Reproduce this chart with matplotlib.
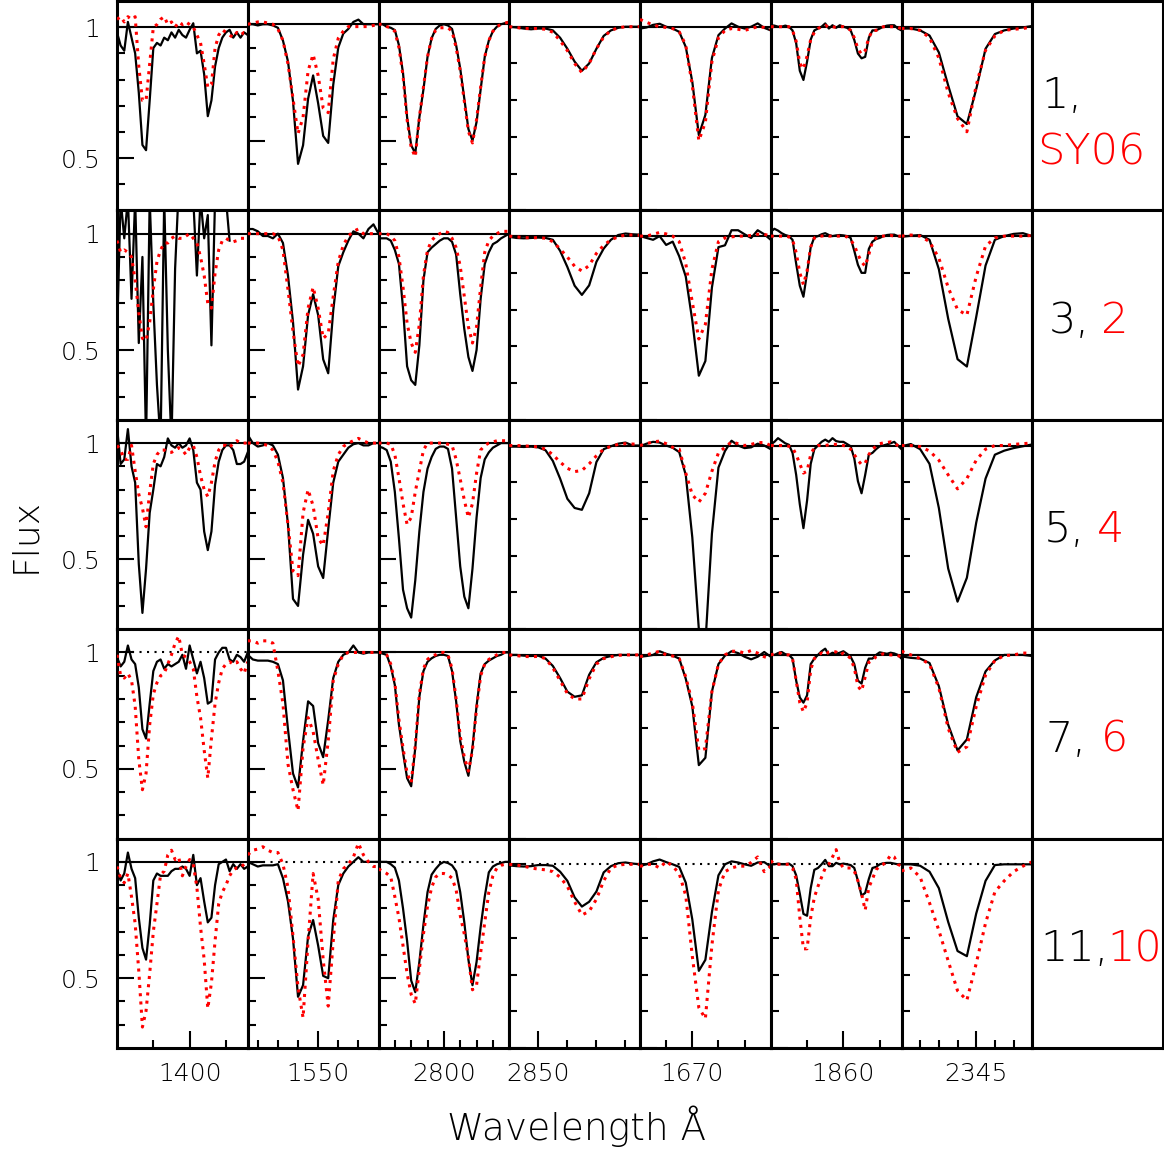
import matplotlib
matplotlib.use("Agg")
import matplotlib.pyplot as plt
import numpy as np

# wavelength window of each column (Angstrom), spectra sampled every 0.5 A
windows = [(1390, 1408), (1543, 1556), (2792, 2808), (2848, 2857),
           (1666, 1676), (1850, 1868), (2341, 2348)]
major_ticks = [1400, 1550, 2800, 2850, 1670, 1860, 2345]
minor_ticks = [[1395, 1405],
               [1544, 1546, 1548, 1552, 1554],
               [2794, 2796, 2798, 2802, 2804, 2806],
               [2852, 2854, 2856],
               [1668, 1672, 1674],
               [1855, 1865],
               [2342, 2343, 2344, 2346, 2347]]
step = 0.5

# row labels: (black spectrum, red spectrum)
row_labels = [("1,", "SY06"), ("3,", "2"), ("5,", "4"), ("7,", "6"), ("11,", "10")]

# ---- SiIV 1393/1402 ----
siiv_black = [
    [0.98, 0.93, 0.91, 1.02, 0.96, 0.90, 0.75, 0.55, 0.53, 0.72, 0.92, 0.94, 0.93, 0.96, 0.95, 0.98, 0.96, 0.99, 0.97,
     0.96, 0.99, 1.015, 0.90, 0.91, 0.82, 0.66, 0.72, 0.85, 0.92, 0.96, 0.98, 0.99, 0.96, 0.98, 0.96, 0.98, 0.97],
    [0.55, 1.15, 0.98, 1.15, 0.72, 1.15, 0.53, 0.90, 0.10, 1.15, 0.70, 0.35, 0.10, 1.15, 0.50, 0.10, 0.85, 1.2, 1.2,
     1.2, 1.2, 1.15, 0.82, 1.15, 0.98, 1.08, 0.52, 1.15, 1.2, 1.2, 1.15, 0.97],
    [1.07, 0.91, 0.93, 1.06, 0.90, 0.83, 0.48, 0.27, 0.46, 0.70, 0.80, 0.91, 0.90, 0.94, 1.02, 0.99, 0.98, 1.0, 0.98,
     0.99, 1.02, 0.97, 0.83, 0.80, 0.62, 0.54, 0.62, 0.82, 0.92, 0.97, 0.99, 0.99, 0.97, 0.91, 0.91, 0.92, 0.96],
    [0.98, 0.94, 0.96, 1.03, 0.97, 0.95, 0.85, 0.67, 0.63, 0.78, 0.92, 0.96, 0.97, 0.93, 0.95, 0.94, 0.95, 0.96, 0.99,
     0.93, 1.03, 0.97, 0.91, 0.96, 0.89, 0.78, 0.79, 0.97, 1.0, 1.02, 1.02, 0.97, 0.96, 0.99, 0.98, 0.96, 1.0],
    [0.97, 0.92, 0.95, 1.04, 0.97, 0.93, 0.76, 0.63, 0.58, 0.73, 0.92, 0.95, 0.94, 0.94, 0.94, 0.96, 0.97, 0.97, 0.98,
     0.97, 0.94, 1.03, 0.90, 0.93, 0.83, 0.74, 0.76, 0.90, 0.99, 1.0, 1.01, 0.96, 0.99, 0.97, 0.99, 0.97, 0.98],
]
siiv_red = [
    [1.03, 1.04, 1.02, 1.04, 1.03, 1.04, 0.85, 0.72, 0.72, 0.86, 1.0, 1.01, 1.03, 1.04, 1.01, 1.02, 1.0, 1.02, 1.01,
     1.02, 1.01, 1.0, 0.97, 0.94, 0.86, 0.77, 0.78, 0.92, 0.97, 0.99, 0.98, 0.97, 0.96, 0.98, 0.97, 0.98, 0.98],
    [0.97, 0.92, 0.93, 0.92, 0.90, 0.80, 0.66, 0.55, 0.54, 0.62, 0.76, 0.88, 0.93, 0.96, 0.96, 0.98, 0.99, 0.98, 0.98,
     0.99, 1.0, 0.98, 0.96, 0.90, 0.82, 0.70, 0.68, 0.83, 0.93, 0.97, 0.98, 0.97, 0.965, 0.97, 0.98, 0.98, 0.98],
    [0.99, 0.97, 0.93, 0.93, 0.99, 0.88, 0.78, 0.72, 0.64, 0.79, 0.91, 0.95, 0.97, 0.97, 0.96, 0.96, 0.97, 0.98, 0.97,
     0.95, 0.98, 0.99, 0.94, 0.86, 0.80, 0.77, 0.83, 0.92, 0.97, 0.99, 0.99, 0.98, 1.0, 1.01, 1.0, 1.0, 1.0],
    [0.99, 0.90, 0.89, 0.91, 0.88, 0.77, 0.54, 0.41, 0.48, 0.69, 0.82, 0.87, 0.90, 0.91, 0.95, 0.99, 1.04, 1.07, 0.99,
     0.98, 0.96, 0.93, 0.81, 0.72, 0.58, 0.46, 0.63, 0.78, 0.87, 0.93, 0.95, 0.96, 0.95, 0.96, 0.93, 0.91, 0.96],
    [0.98, 0.93, 0.91, 0.95, 0.85, 0.735, 0.53, 0.29, 0.36, 0.52, 0.70, 0.82, 0.945, 0.96, 1.03, 1.05, 1.01, 1.02,
     0.94, 0.98, 1.01, 0.99, 0.89, 0.72, 0.58, 0.37, 0.48, 0.66, 0.82, 0.87, 0.90, 0.94, 0.965, 0.975, 0.975, 0.99, 1.0],
]

# ---- CIV 1548/1550 ----
civ_black = [
    [1.0, 1.0, 0.995, 1.0, 1.0, 0.995, 0.985, 0.93, 0.84, 0.67, 0.40, 0.48, 0.68, 0.78, 0.66, 0.52, 0.49, 0.74, 0.90,
     0.96, 0.98, 1.01, 1.02, 1.0, 1.0, 1.0, 1.0],
    [1.02, 1.02, 1.01, 0.99, 0.99, 0.98, 1.0, 0.96, 0.82, 0.62, 0.33, 0.43, 0.65, 0.74, 0.65, 0.46, 0.40, 0.67, 0.86,
     0.92, 0.97, 1.01, 1.0, 0.98, 1.02, 1.04, 1.0],
    [1.035, 1.0, 0.985, 0.99, 1.0, 0.99, 0.95, 0.85, 0.65, 0.33, 0.30, 0.52, 0.67, 0.61, 0.47, 0.42, 0.63, 0.83, 0.92,
     0.95, 0.98, 0.995, 1.0, 0.99, 0.99, 1.0, 1.0],
    [0.99, 0.97, 0.965, 0.965, 0.965, 0.96, 0.95, 0.88, 0.67, 0.48, 0.42, 0.62, 0.79, 0.77, 0.61, 0.55, 0.71, 0.89,
     0.96, 0.99, 1.0, 1.03, 1.0, 0.995, 1.0, 1.0, 1.0],
    [1.0, 0.99, 0.98, 0.985, 0.985, 0.985, 0.99, 0.93, 0.83, 0.67, 0.42, 0.47, 0.68, 0.75, 0.64, 0.51, 0.50, 0.75,
     0.90, 0.95, 0.98, 1.0, 1.02, 1.0, 1.0, 1.0, 1.0],
]
civ_red = [
    [1.0, 1.005, 1.01, 1.01, 1.005, 1.0, 0.98, 0.93, 0.83, 0.68, 0.53, 0.60, 0.80, 0.87, 0.78, 0.64, 0.62, 0.85, 0.94,
     0.97, 0.99, 0.99, 0.99, 0.99, 0.99, 0.995, 0.995],
    [1.0, 1.0, 1.0, 1.0, 1.0, 1.0, 0.99, 0.93, 0.76, 0.58, 0.43, 0.48, 0.68, 0.77, 0.68, 0.55, 0.57, 0.73, 0.88, 0.95,
     0.99, 1.01, 1.02, 1.0, 1.0, 1.0, 1.0],
    [1.0, 1.0, 1.0, 0.995, 0.99, 0.97, 0.92, 0.83, 0.65, 0.45, 0.43, 0.70, 0.80, 0.73, 0.59, 0.56, 0.70, 0.88, 0.95,
     0.985, 1.0, 1.01, 1.02, 1.01, 1.0, 1.0, 1.0],
    [1.05, 1.05, 1.04, 1.05, 1.05, 1.04, 0.92, 0.78, 0.52, 0.41, 0.32, 0.59, 0.72, 0.66, 0.54, 0.43, 0.62, 0.88, 0.95,
     0.99, 1.0, 1.0, 1.0, 1.0, 1.0, 1.0, 1.0],
    [1.03, 1.05, 1.055, 1.065, 1.05, 1.04, 1.04, 0.99, 0.89, 0.68, 0.46, 0.33, 0.66, 0.95, 0.84, 0.58, 0.38, 0.66,
     0.92, 0.97, 0.99, 1.02, 1.08, 1.03, 1.0, 0.98, 0.98],
]

# ---- MgII 2796/2803 ----
mgii_black = [
    [1.0, 1.0, 0.99, 0.985, 0.975, 0.91, 0.79, 0.60, 0.48, 0.445, 0.60, 0.72, 0.86, 0.94, 0.98, 0.995, 1.0, 0.995,
     0.98, 0.91, 0.81, 0.68, 0.55, 0.50, 0.58, 0.72, 0.86, 0.93, 0.97, 0.99, 1.0, 1.005, 1.01],
    [0.98, 0.98, 0.98, 0.97, 0.93, 0.87, 0.68, 0.43, 0.37, 0.35, 0.52, 0.80, 0.92, 0.94, 0.955, 0.97, 0.98, 0.98, 0.965,
     0.91, 0.74, 0.59, 0.47, 0.41, 0.50, 0.72, 0.87, 0.92, 0.955, 0.965, 0.98, 0.99, 1.0],
    [0.985, 0.98, 0.97, 0.92, 0.79, 0.59, 0.37, 0.29, 0.25, 0.41, 0.62, 0.79, 0.89, 0.94, 0.975, 0.985, 0.985, 0.975,
     0.89, 0.68, 0.47, 0.34, 0.29, 0.46, 0.68, 0.85, 0.93, 0.96, 0.98, 0.99, 1.0, 1.0, 1.0],
    [1.0, 0.995, 0.99, 0.94, 0.86, 0.69, 0.57, 0.46, 0.425, 0.59, 0.81, 0.92, 0.96, 0.975, 0.985, 0.99, 0.99, 0.985,
     0.92, 0.79, 0.62, 0.53, 0.47, 0.59, 0.77, 0.91, 0.95, 0.965, 0.975, 0.985, 0.99, 1.0, 1.0],
    [1.0, 1.0, 1.0, 0.99, 0.975, 0.92, 0.80, 0.66, 0.49, 0.44, 0.57, 0.73, 0.87, 0.945, 0.97, 0.99, 1.0, 0.995, 0.985,
     0.96, 0.87, 0.74, 0.58, 0.47, 0.57, 0.72, 0.85, 0.955, 0.98, 0.99, 0.995, 1.0, 1.0],
]
mgii_red = [
    [1.0, 1.0, 0.99, 0.985, 0.97, 0.90, 0.78, 0.59, 0.47, 0.43, 0.60, 0.73, 0.86, 0.94, 0.975, 0.985, 0.985, 0.985,
     0.97, 0.90, 0.80, 0.67, 0.54, 0.49, 0.59, 0.73, 0.86, 0.93, 0.97, 0.99, 1.0, 1.005, 1.01],
    [1.0, 1.0, 1.0, 0.99, 0.97, 0.90, 0.77, 0.615, 0.53, 0.49, 0.61, 0.82, 0.93, 0.97, 0.99, 1.0, 1.01, 1.005, 0.98,
     0.94, 0.86, 0.73, 0.60, 0.53, 0.60, 0.77, 0.92, 0.97, 0.99, 1.0, 1.01, 1.01, 1.01],
    [1.0, 1.0, 1.0, 0.995, 0.95, 0.85, 0.74, 0.65, 0.68, 0.79, 0.88, 0.97, 1.0, 1.0, 1.0, 1.0, 1.0, 0.995, 0.99, 0.93,
     0.845, 0.755, 0.68, 0.74, 0.87, 0.97, 0.99, 1.0, 1.005, 1.01, 1.01, 1.01, 1.01],
    [1.0, 1.0, 0.99, 0.95, 0.87, 0.71, 0.59, 0.48, 0.44, 0.60, 0.82, 0.93, 0.97, 0.985, 0.99, 1.0, 1.0, 0.99, 0.93,
     0.80, 0.64, 0.55, 0.49, 0.58, 0.76, 0.90, 0.95, 0.97, 0.98, 0.99, 1.0, 1.0, 1.0],
    [0.97, 0.96, 0.95, 0.935, 0.85, 0.76, 0.64, 0.52, 0.43, 0.39, 0.54, 0.69, 0.81, 0.89, 0.935, 0.95, 0.95, 0.945,
     0.93, 0.88, 0.77, 0.69, 0.59, 0.45, 0.47, 0.61, 0.74, 0.87, 0.94, 0.975, 0.985, 0.99, 0.99],
]

# ---- MgI 2852 ----
mgi_black = [
    [1.0, 0.998, 0.995, 0.993, 0.995, 0.995, 0.99, 0.97, 0.94, 0.905, 0.88, 0.90, 0.94, 0.975, 0.99, 0.997, 1.0, 1.0,
     1.0],
    [0.998, 0.995, 0.994, 0.995, 0.996, 0.995, 0.99, 0.96, 0.916, 0.865, 0.84, 0.866, 0.93, 0.966, 0.99, 1.003, 1.007,
     1.005, 1.004],
    [0.997, 0.997, 0.996, 0.997, 0.995, 0.987, 0.958, 0.91, 0.855, 0.83, 0.825, 0.87, 0.955, 0.99, 0.998, 1.005,
     1.008, 1.0, 1.0],
    [1.0, 1.0, 0.998, 0.997, 0.998, 0.99, 0.97, 0.937, 0.90, 0.886, 0.89, 0.946, 0.98, 0.992, 0.997, 1.0, 1.0, 1.0,
     1.0],
    [0.997, 0.995, 0.994, 0.995, 0.998, 0.998, 0.996, 0.98, 0.955, 0.91, 0.885, 0.898, 0.926, 0.978, 0.995, 1.003,
     1.005, 1.002, 1.0],
]
mgi_red = [
    [1.0, 0.998, 0.995, 0.995, 0.995, 0.993, 0.985, 0.962, 0.935, 0.90, 0.875, 0.90, 0.94, 0.972, 0.99, 0.997, 1.0,
     1.0, 1.0],
    [1.0, 0.998, 0.996, 0.995, 0.996, 0.994, 0.985, 0.965, 0.943, 0.918, 0.905, 0.92, 0.953, 0.975, 0.99, 0.998,
     1.003, 1.003, 1.002],
    [1.0, 1.0, 0.999, 0.998, 0.996, 0.99, 0.975, 0.955, 0.938, 0.929, 0.932, 0.95, 0.972, 0.99, 0.998, 1.003, 1.005,
     1.004, 1.003],
    [1.0, 0.998, 0.996, 0.995, 0.996, 0.99, 0.965, 0.93, 0.895, 0.88, 0.88, 0.935, 0.975, 0.99, 0.995, 0.999, 1.0,
     1.0, 1.0],
    [1.0, 0.998, 0.995, 0.99, 0.987, 0.985, 0.98, 0.965, 0.94, 0.898, 0.862, 0.872, 0.905, 0.955, 0.99, 0.998, 1.0,
     1.0, 1.0],
]

# ---- AlII 1670 ----
alii_black = [
    [0.995, 0.998, 1.005, 1.008, 1.0, 0.995, 0.986, 0.945, 0.85, 0.705, 0.76, 0.915, 0.977, 0.995, 1.009, 1.0, 0.995,
     1.0, 1.009, 0.997, 0.99],
    [1.0, 0.995, 0.99, 1.0, 0.976, 0.985, 0.945, 0.89, 0.77, 0.62, 0.66, 0.86, 0.97, 0.975, 1.016, 1.016, 1.005, 0.995,
     1.016, 1.005, 0.99],
    [0.998, 1.005, 1.01, 1.008, 1.0, 0.994, 0.982, 0.92, 0.75, 0.50, 0.46, 0.76, 0.94, 0.985, 1.013, 1.0, 0.993,
     0.995, 1.005, 1.0, 0.99],
    [0.995, 0.997, 1.0, 1.01, 1.003, 0.998, 0.99, 0.935, 0.86, 0.70, 0.72, 0.90, 0.975, 0.998, 1.01, 1.005, 0.995,
     0.988, 0.995, 1.008, 0.995],
    [0.996, 1.0, 1.008, 1.013, 1.006, 1.0, 0.993, 0.95, 0.85, 0.71, 0.74, 0.87, 0.97, 1.0, 1.008, 1.005, 1.0, 0.996,
     1.005, 1.006, 0.994],
]
alii_red = [
    [1.02, 1.012, 1.005, 1.0, 0.998, 0.995, 0.986, 0.95, 0.84, 0.69, 0.74, 0.905, 0.97, 0.99, 0.995, 0.993, 0.99,
     0.995, 1.0, 0.998, 0.993],
    [1.0, 1.0, 1.005, 1.01, 1.006, 1.0, 0.985, 0.925, 0.82, 0.72, 0.76, 0.91, 0.985, 0.995, 0.998, 1.0, 1.0, 1.002,
     1.005, 1.005, 1.0],
    [1.0, 1.005, 1.01, 1.012, 1.005, 0.995, 0.99, 0.925, 0.866, 0.846, 0.87, 0.93, 0.98, 0.995, 1.01, 1.005, 1.0,
     1.003, 1.008, 1.008, 1.0],
    [0.995, 1.0, 1.005, 1.01, 1.0, 0.997, 0.99, 0.94, 0.87, 0.74, 0.745, 0.90, 0.975, 1.0, 1.01, 1.01, 1.005, 1.012,
     1.005, 0.995, 0.99],
    [0.994, 1.0, 1.0, 0.99, 1.008, 0.995, 0.975, 0.915, 0.75, 0.61, 0.58, 0.78, 0.93, 0.98, 0.99, 0.995, 0.995, 1.005,
     1.02, 0.98, 0.995],
]

# ---- AlIII 1854/1862 ----
aliii_black = [
    [1.004, 1.003, 1.0, 1.0, 1.003, 1.0, 0.99, 0.955, 0.88, 0.855, 0.905, 0.965, 0.99, 0.995, 1.0, 1.009, 0.995, 1.004,
     0.997, 1.004, 1.0, 0.997, 0.99, 0.964, 0.927, 0.914, 0.918, 0.97, 0.99, 0.99, 0.995, 1.0, 1.003, 1.004, 1.004,
     0.995, 0.99],
    [1.012, 1.02, 1.015, 1.008, 1.003, 1.0, 0.99, 0.925, 0.865, 0.835, 0.90, 0.97, 0.997, 1.0, 1.005, 1.008, 1.003,
     1.0, 1.002, 1.003, 1.002, 1.0, 0.995, 0.96, 0.922, 0.90, 0.90, 0.965, 0.985, 0.992, 0.995, 1.0, 1.003, 1.004,
     1.004, 1.0, 0.998],
    [1.003, 1.01, 1.02, 1.013, 1.006, 1.002, 0.98, 0.92, 0.84, 0.775, 0.85, 0.95, 0.99, 1.0, 1.01, 1.016, 1.01, 1.02,
     1.012, 1.01, 1.01, 1.004, 0.998, 0.965, 0.903, 0.87, 0.92, 0.975, 0.98, 0.99, 0.998, 1.0, 1.003, 1.006, 1.01,
     1.0, 0.99],
    [1.0, 1.0, 1.005, 1.008, 1.002, 1.0, 0.99, 0.93, 0.884, 0.87, 0.89, 0.975, 0.99, 1.0, 1.01, 1.017, 1.0, 1.006,
     1.003, 1.006, 1.01, 1.003, 0.995, 0.975, 0.93, 0.922, 0.965, 0.99, 0.99, 1.0, 1.007, 1.005, 1.003, 1.006, 1.004,
     1.0, 0.99],
    [1.0, 1.0, 1.002, 1.0, 1.0, 1.002, 0.995, 0.97, 0.92, 0.865, 0.86, 0.935, 0.985, 0.99, 1.0, 1.012, 0.995, 0.995,
     1.004, 1.0, 1.002, 1.0, 0.998, 0.99, 0.955, 0.915, 0.922, 0.96, 0.99, 0.993, 1.0, 1.003, 1.004, 1.004, 1.002,
     1.0, 1.0],
]
aliii_red = [
    [1.0, 1.0, 1.0, 1.0, 1.0, 1.0, 0.99, 0.96, 0.90, 0.885, 0.92, 0.965, 0.985, 0.995, 1.0, 1.004, 0.998, 1.0, 0.998,
     1.0, 1.0, 0.998, 0.99, 0.97, 0.94, 0.925, 0.935, 0.97, 0.99, 0.99, 0.995, 1.0, 1.0, 1.0, 1.0, 0.998, 0.995],
    [1.0, 1.0, 1.0, 1.0, 1.0, 0.998, 0.99, 0.955, 0.90, 0.868, 0.905, 0.97, 0.995, 1.0, 1.0, 1.002, 1.0, 1.0, 1.0, 1.0,
     1.0, 0.998, 0.99, 0.975, 0.95, 0.93, 0.918, 0.95, 0.985, 0.995, 1.0, 1.0, 1.002, 1.002, 1.0, 1.0, 1.0],
    [1.0, 1.0, 1.0, 1.0, 1.0, 0.998, 0.994, 0.975, 0.95, 0.925, 0.93, 0.975, 0.995, 1.0, 1.0, 1.0, 1.002, 1.003, 1.003,
     1.003, 1.0, 0.998, 0.99, 0.975, 0.96, 0.948, 0.952, 0.975, 0.99, 0.998, 1.005, 1.007, 1.008, 1.01, 1.005, 1.0,
     0.995],
    [1.0, 1.003, 1.006, 1.004, 1.0, 1.0, 0.99, 0.93, 0.87, 0.845, 0.87, 0.96, 0.99, 1.0, 1.005, 1.0, 1.008, 1.01,
     1.008, 1.0, 1.005, 1.0, 0.99, 0.965, 0.915, 0.902, 0.94, 0.98, 0.985, 0.995, 1.0, 1.003, 1.002, 1.0, 1.0, 0.998,
     0.995],
    [1.01, 1.0, 1.0, 1.0, 1.0, 1.0, 0.99, 0.96, 0.855, 0.77, 0.77, 0.855, 0.91, 0.94, 0.965, 0.99, 1.0, 1.02, 1.04,
     1.005, 0.99, 0.99, 0.99, 0.982, 0.955, 0.92, 0.875, 0.937, 0.96, 0.985, 0.995, 1.0, 1.01, 1.025, 1.02, 1.0, 0.995],
]

# ---- FeII 2344 ----
feii_black = [
    [0.995, 0.995, 0.99, 0.976, 0.93, 0.84, 0.756, 0.735, 0.83, 0.94, 0.98, 0.99, 0.995, 0.998, 1.002],
    [0.998, 1.001, 1.003, 0.99, 0.91, 0.775, 0.665, 0.645, 0.78, 0.92, 0.99, 1.0, 1.006, 1.008, 1.0],
    [0.998, 1.004, 0.99, 0.95, 0.83, 0.665, 0.575, 0.64, 0.79, 0.91, 0.975, 0.986, 0.993, 0.998, 1.003],
    [0.996, 0.992, 0.99, 0.978, 0.915, 0.81, 0.74, 0.77, 0.885, 0.955, 0.985, 1.0, 1.0, 1.0, 0.997],
    [1.0, 1.0, 0.996, 0.98, 0.935, 0.843, 0.764, 0.75, 0.866, 0.955, 0.998, 1.0, 1.0, 1.0, 1.0],
]
feii_red = [
    [0.995, 0.995, 0.99, 0.97, 0.915, 0.82, 0.75, 0.714, 0.84, 0.936, 0.975, 0.99, 0.993, 0.995, 1.0],
    [1.0, 1.003, 1.0, 0.985, 0.94, 0.86, 0.80, 0.785, 0.89, 0.973, 0.995, 1.0, 1.0, 1.0, 1.002],
    [1.0, 1.0, 0.997, 0.985, 0.96, 0.92, 0.882, 0.91, 0.96, 0.99, 1.0, 1.0, 1.003, 1.005, 1.007],
    [1.01, 1.0, 0.99, 0.975, 0.91, 0.80, 0.735, 0.75, 0.86, 0.945, 0.985, 0.998, 1.0, 1.005, 1.005],
    [0.982, 0.99, 0.965, 0.895, 0.82, 0.737, 0.656, 0.63, 0.73, 0.84, 0.925, 0.955, 0.98, 0.995, 1.007],
]

black_sets = [siiv_black, civ_black, mgii_black, mgi_black, alii_black, aliii_black, feii_black]
red_sets = [siiv_red, civ_red, mgii_red, mgi_red, alii_red, aliii_red, feii_red]

# layout in pixels of the 1164x1152 canvas
W, H = 1164, 1152
X0, COLW = 117, 130.75
Y0, ROWH = 1, 209.4
FRAME_LW = 2.2
TXT_WEIGHT = 'light'


def panel_ylim(r, c):
    if c >= 3:
        return 0.5, 1.07
    if r == 0 and c == 0:
        return 0.3, 1.1
    return 0.2, 1.1


plt.rcParams['font.family'] = ['DejaVu Sans']
plt.rcParams['font.weight'] = TXT_WEIGHT
fig = plt.figure(figsize=(W / 100, H / 100), dpi=100)

for r in range(5):
    for c in range(8):
        left = (X0 + c * COLW) / W
        bottom = 1 - (Y0 + (r + 1) * ROWH) / H
        ax = fig.add_axes([left, bottom, COLW / W, ROWH / H])
        for sp in ax.spines.values():
            sp.set_linewidth(FRAME_LW)

        if c == 7:
            # label column
            ax.set_xticks([])
            ax.set_yticks([])
            black_txt, red_txt = row_labels[r]
            if r == 0:
                ax.text(0.073, 0.55, black_txt, transform=ax.transAxes, fontsize=31,
                        color='black', ha='left', va='center')
                ax.text(0.035, 0.28, red_txt, transform=ax.transAxes, fontsize=31,
                        color='red', ha='left', va='center')
            else:
                bx = {1: 0.127, 2: 0.088, 3: 0.104, 4: 0.06}[r]
                rx = {1: 0.527, 2: 0.496, 3: 0.527, 4: 0.575}[r]
                ax.text(bx, 0.475, black_txt, transform=ax.transAxes, fontsize=31,
                        color='black', ha='left', va='center')
                ax.text(rx, 0.475, red_txt, transform=ax.transAxes, fontsize=31,
                        color='red', ha='left', va='center')
            continue

        lo, hi = windows[c]
        wave = np.arange(lo, hi + step / 2, step)
        black = black_sets[c][r]
        red = red_sets[c][r]

        # continuum
        dotted = (r == 3 and c == 0) or (r == 4 and c >= 1)
        if dotted:
            ax.axhline(1.0, color='black', lw=1.5, linestyle=(0, (1, 2.6)), zorder=1)
        else:
            ax.axhline(1.0, color='black', lw=1.5, zorder=1)

        ax.plot(wave[:len(black)], black, color='black', lw=1.6, zorder=2)
        ax.plot(wave[:len(red)], red, color='red', lw=2.2, linestyle=(0, (1, 1.7)), zorder=3)

        ax.set_xlim(lo, hi)
        y_lo, y_hi = panel_ylim(r, c)
        ax.set_ylim(y_lo, y_hi)

        # y ticks: majors at 0.5 and 1, minors every 0.1
        ax.set_yticks([0.5, 1.0])
        ax.set_yticks([v for v in [0.3, 0.4, 0.6, 0.7, 0.8, 0.9] if y_lo < v < y_hi], minor=True)
        if c == 0:
            ax.set_yticklabels(['0.5', '1'])
        else:
            ax.set_yticklabels([])

        if r == 4:
            ax.set_xticks([major_ticks[c]])
            ax.set_xticks(minor_ticks[c], minor=True)
            ax.set_xticklabels([str(major_ticks[c])])
        else:
            ax.set_xticks([])
            ax.set_xticks([], minor=True)

        ax.tick_params(which='both', direction='in', left=True, right=False, top=False,
                       bottom=(r == 4), width=1.5, labelsize=18)
        ax.tick_params(which='major', length=12)
        ax.tick_params(which='minor', length=6)
        ax.tick_params(axis='y', pad=12)
        ax.tick_params(axis='x', pad=10)

fig.text(25 / W, 1 - 535 / H, 'Flux', rotation=90, fontsize=26, ha='center', va='center')
fig.text(577 / W, 1 - 1126 / H, 'Wavelength Å', fontsize=27, ha='center', va='center')

fig.savefig('out.png', dpi=100)
